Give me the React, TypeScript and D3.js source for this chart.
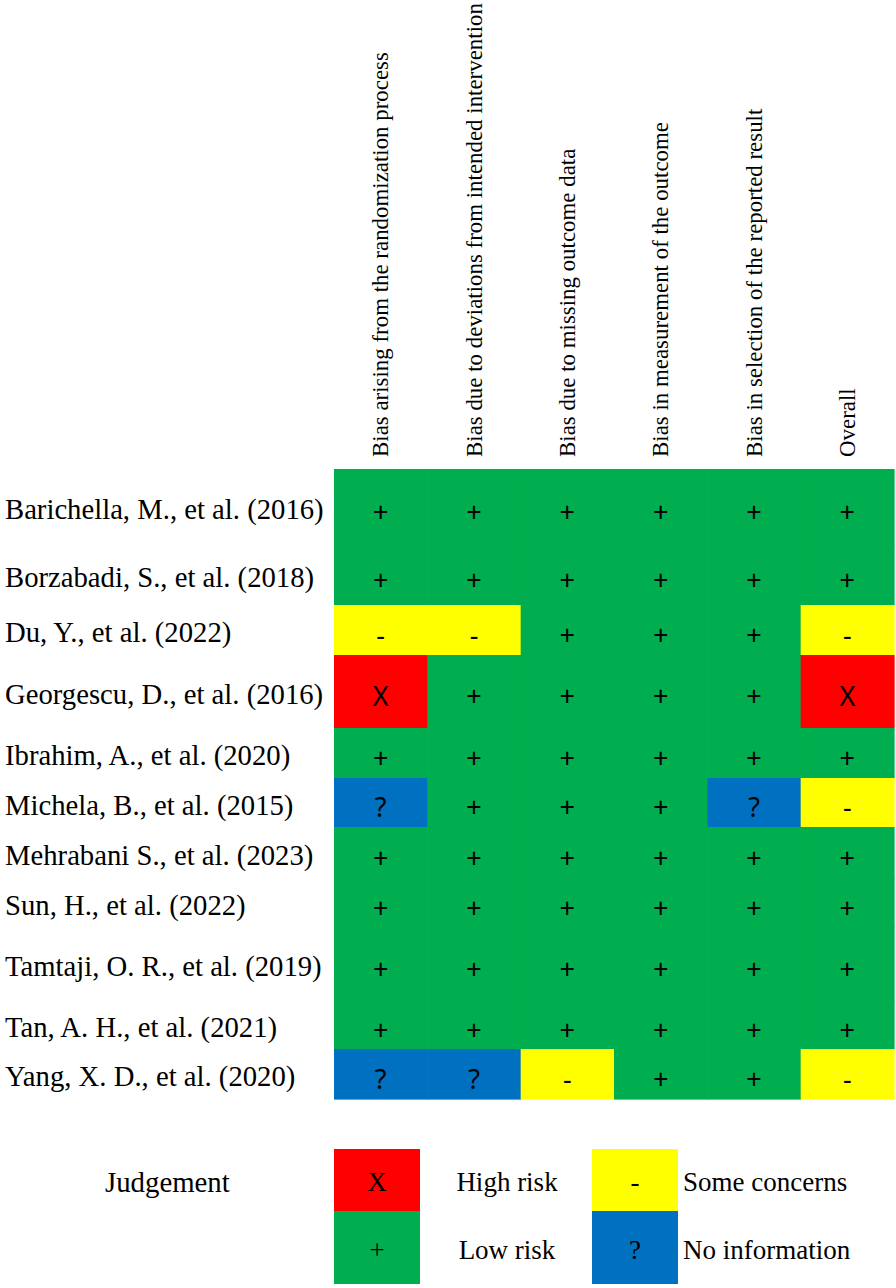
import React from "react";
import * as d3 from "d3";

const domains = [
  "Bias arising from the randomization process",
  "Bias due to deviations from intended intervention",
  "Bias due to missing outcome data",
  "Bias in measurement of the outcome",
  "Bias in selection of the reported result",
  "Overall",
];

const studies = [
  "Barichella, M., et al. (2016)",
  "Borzabadi, S., et al. (2018)",
  "Du, Y., et al. (2022)",
  "Georgescu, D., et al. (2016)",
  "Ibrahim, A., et al. (2020)",
  "Michela, B., et al. (2015)",
  "Mehrabani S., et al. (2023)",
  "Sun, H., et al. (2022)",
  "Tamtaji, O. R., et al. (2019)",
  "Tan, A. H., et al. (2021)",
  "Yang, X. D., et al. (2020)",
];

// L = low risk, S = some concerns, H = high risk, N = no information
const judgements = [
  ["L", "L", "L", "L", "L", "L"],
  ["L", "L", "L", "L", "L", "L"],
  ["S", "S", "L", "L", "L", "S"],
  ["H", "L", "L", "L", "L", "H"],
  ["L", "L", "L", "L", "L", "L"],
  ["N", "L", "L", "L", "N", "S"],
  ["L", "L", "L", "L", "L", "L"],
  ["L", "L", "L", "L", "L", "L"],
  ["L", "L", "L", "L", "L", "L"],
  ["L", "L", "L", "L", "L", "L"],
  ["N", "N", "S", "L", "L", "S"],
];

const levels = ["H", "L", "S", "N"];
const levelLabels = ["High risk", "Low risk", "Some concerns", "No information"];
const levelSymbols = ["X", "+", "-", "?"];
const levelColors = ["#FF0000", "#00AE4F", "#FFFF00", "#0070C0"];

// layout (row boundaries in px, grid rows are not all the same height)
const rowEdges = [469, 545, 605, 655, 728, 778, 827, 879, 927, 1001, 1049, 1099];

const SERIF = "'Liberation Serif', 'Times New Roman', serif";
const SANS = "'Noto Sans', 'DejaVu Sans', sans-serif";

export default function App() {
  const W = 896;
  const H = 1288;
  const x = d3.scaleBand<string>().domain(domains).range([334, 894]);
  const color = d3.scaleOrdinal<string, string>().domain(levels).range(levelColors);
  const symbol = d3.scaleOrdinal<string, string>().domain(levels).range(levelSymbols);
  const bw = x.bandwidth();

  return (
    <svg
      width={W}
      height={H}
      style={{ position: "absolute", left: 0, top: 0, background: "#fff" }}
      xmlns="http://www.w3.org/2000/svg"
    >
      <rect x={0} y={0} width={W} height={H} fill="#fff" />
      {/* column headers */}
      {domains.map((d) => {
        const cx = (x(d) as number) + bw / 2;
        return (
          <text
            key={d}
            transform={`translate(${cx},457) rotate(-90)`}
            fontFamily={SERIF}
            fontSize={22.9}
            dominantBaseline="central"
            fill="#000"
          >
            {d}
          </text>
        );
      })}
      {/* cells */}
      {studies.map((s, i) => {
        const y0 = rowEdges[i];
        const y1 = rowEdges[i + 1];
        const cy = (y0 + y1) / 2;
        return (
          <g key={s}>
            <text
              x={5}
              y={cy + 2}
              fontFamily={SERIF}
              fontSize={28.7}
              dominantBaseline="central"
              fill="#000"
            >
              {s}
            </text>
            {domains.map((d, j) => {
              const v = judgements[i][j];
              const cx = (x(d) as number) + bw / 2;
              return (
                <g key={d}>
                  <rect
                    x={x(d) as number}
                    y={y0}
                    width={bw + 0.6}
                    height={y1 - y0 + 0.6}
                    fill={color(v)}
                  />
                  <text
                    x={cx}
                    y={cy + 4}
                    textAnchor="middle"
                    dominantBaseline="central"
                    fontFamily={SANS}
                    fontSize={27}
                    fill="#000"
                  >
                    {symbol(v)}
                  </text>
                </g>
              );
            })}
          </g>
        );
      })}
      {/* legend */}
      <text x={105} y={1182} fontFamily={SERIF} fontSize={28.8} dominantBaseline="central" fill="#000">
        Judgement
      </text>
      {levels.map((lv, k) => {
        const col = Math.floor(k / 2);
        const row = k % 2;
        const bx = col === 0 ? 334 : 592;
        const by = row === 0 ? 1149 : 1211;
        const bh = row === 0 ? 62 : 73;
        const labelX = col === 0 ? 507 : 683;
        return (
          <g key={lv}>
            <rect x={bx} y={by} width={86} height={bh} fill={color(lv)} />
            <text
              x={bx + 43}
              y={by + bh / 2 + 2}
              textAnchor="middle"
              dominantBaseline="central"
              fontFamily={SERIF}
              fontSize={27}
              fill="#000"
            >
              {symbol(lv)}
            </text>
            <text
              x={labelX}
              y={by + bh / 2 + 2}
              textAnchor={col === 0 ? "middle" : "start"}
              dominantBaseline="central"
              fontFamily={SERIF}
              fontSize={27}
              fill="#000"
            >
              {levelLabels[k]}
            </text>
          </g>
        );
      })}
    </svg>
  );
}
